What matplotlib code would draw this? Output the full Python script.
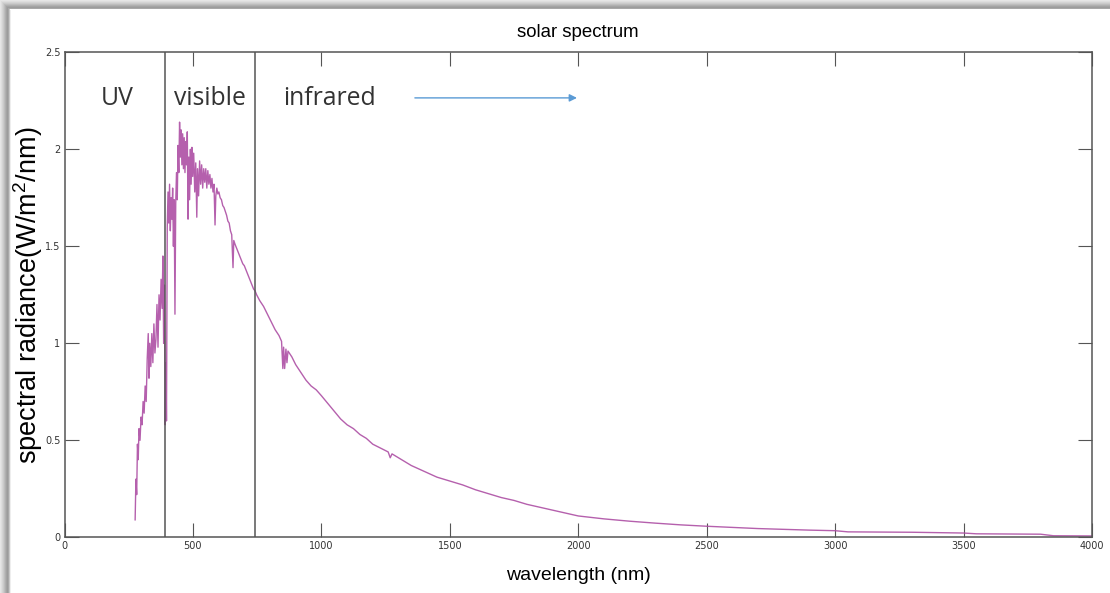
import matplotlib
matplotlib.use('Agg')
import matplotlib.pyplot as plt
from matplotlib.patches import Rectangle, FancyArrowPatch
import numpy as np

plt.rcParams['mathtext.fontset'] = 'custom'
plt.rcParams['mathtext.rm'] = 'Liberation Sans'
plt.rcParams['mathtext.it'] = 'Liberation Sans'

# spectrum (wavelength in nm, radiance in W/m^2/nm)
wl_uv_vis = [275, 278, 281, 284, 287, 290, 294, 298, 302, 306, 310, 314, 318, 322, 326, 329,
             332, 336, 340, 344, 348, 352, 356, 360, 364, 368, 372, 376, 380, 383, 386, 389,
             392, 395, 397, 400, 403, 406, 409, 412, 415, 418, 421, 424, 427, 430, 433, 436,
             439, 442, 445, 448, 451, 454, 457, 460, 463, 466, 469, 472, 475, 478, 481, 484,
             487, 490, 493, 496, 499, 503, 507, 511, 515, 518, 522, 526, 530, 534, 538, 542,
             546, 550, 554, 558, 562, 566, 570, 574, 578, 582, 586, 589, 593, 597, 601, 606,
             611, 616, 621, 626, 631, 636, 641, 646, 651, 656, 659, 664, 670, 676, 682, 688,
             694, 700, 706, 712, 718, 724, 730, 736, 742, 748]
rad_uv_vis = [0.09, 0.30, 0.22, 0.48, 0.40, 0.56, 0.50, 0.62, 0.58, 0.70, 0.64, 0.78, 0.70, 0.92, 1.05, 0.82,
              1.00, 0.88, 1.05, 0.90, 1.10, 0.95, 1.02, 1.20, 0.98, 1.25, 1.12, 1.33, 1.18, 1.45, 1.00, 1.30,
              0.58, 0.90, 0.60, 1.60, 1.78, 1.62, 1.82, 1.58, 1.75, 1.64, 1.80, 1.50, 1.74, 1.15, 1.72, 1.88,
              1.74, 2.02, 1.88, 2.14, 1.96, 2.10, 1.92, 2.08, 1.90, 2.06, 1.88, 2.04, 1.92, 2.09, 1.64, 1.96,
              1.74, 2.00, 1.82, 2.01, 1.86, 1.98, 1.78, 1.93, 1.65, 1.90, 1.76, 1.94, 1.82, 1.92, 1.80, 1.90,
              1.83, 1.90, 1.80, 1.89, 1.82, 1.87, 1.80, 1.85, 1.78, 1.82, 1.61, 1.76, 1.80, 1.77, 1.78, 1.75,
              1.74, 1.71, 1.70, 1.68, 1.66, 1.63, 1.62, 1.58, 1.56, 1.39, 1.53, 1.51, 1.49, 1.47, 1.45, 1.43,
              1.41, 1.40, 1.38, 1.36, 1.34, 1.32, 1.30, 1.28, 1.27, 1.25]

wl_ir = [760, 775, 790, 805, 820, 835, 845, 850, 853, 857, 862, 866, 870, 885, 900, 920,
         940, 960, 980, 1000, 1025, 1050, 1075, 1100, 1125, 1150, 1175, 1200, 1230, 1260, 1268, 1275,
         1300, 1350, 1400, 1450, 1500, 1550, 1600, 1650, 1700, 1750, 1800, 1850, 1900, 1950, 2000, 2100,
         2200, 2300, 2400, 2500, 2600, 2700, 2800, 2900, 3000, 3050, 3300, 3500, 3550, 3800, 3850, 4000]
rad_ir = [1.22, 1.19, 1.15, 1.11, 1.07, 1.04, 1.01, 0.87, 0.98, 0.87, 0.97, 0.90, 0.96, 0.93, 0.89, 0.85,
          0.81, 0.78, 0.76, 0.73, 0.69, 0.65, 0.61, 0.58, 0.56, 0.53, 0.51, 0.48, 0.46, 0.44, 0.41, 0.43,
          0.41, 0.37, 0.34, 0.31, 0.29, 0.27, 0.245, 0.225, 0.205, 0.19, 0.17, 0.155, 0.14, 0.125, 0.11, 0.095,
          0.083, 0.073, 0.064, 0.057, 0.051, 0.045, 0.041, 0.037, 0.034, 0.028, 0.026, 0.022, 0.018, 0.016, 0.008, 0.007]

band_edges = [390, 740]
band_names = ['UV', 'visible', 'infrared']
band_label_x = [204, 567, 1030]
xticks = [0, 500, 1000, 1500, 2000, 2500, 3000, 3500, 4000]
yticks = [0, 0.5, 1, 1.5, 2, 2.5]
ytick_labels = ['0', '0.5', '1', '1.5', '2', '2.5']

wl = np.array(wl_uv_vis + wl_ir)
rad = np.array(rad_uv_vis + rad_ir)

fig = plt.figure(figsize=(11.1, 5.93), dpi=100)

# grey shadow of the pasted screenshot (left and top edges)
W, H = 1110.0, 593.0
greys = ['#e6e6e6', '#dedede', '#d4d4d4', '#cacaca', '#bdbdbd', '#b0b0b0', '#a4a4a4', '#9c9c9c', '#a8a8a8', '#c8c8c8', '#eeeeee']
for i, g in enumerate(greys):
    fig.patches.append(Rectangle((i / W, 0), 1 / W, 1 - i / H, transform=fig.transFigure, color=g, lw=0))
    if i < 9:
        fig.patches.append(Rectangle((i / W, 1 - (i + 1) / H), 1 - i / W, 1 / H,
                                     transform=fig.transFigure, color=g, lw=0))

ax = fig.add_axes([64.5 / W, 55.7 / H, (1092 - 64.5) / W, (537.3 - 52.3) / H])
ax.plot(wl, rad, color='#ad4fa4', lw=1.0, alpha=0.9)

for e in band_edges:
    ax.axvline(e, color='#555555', lw=1.1)

ax.set_xlim(0, 4000)
ax.set_ylim(0, 2.5)
ax.set_xticks(xticks)
ax.set_yticks(yticks)
ax.set_yticklabels(ytick_labels)
ax.tick_params(direction='in', length=10, width=0.8, color='#555555', labelsize=7,
               labelcolor='#333333', top=True, right=True, pad=3)
for s in ax.spines.values():
    s.set_color('#555555')
    s.set_linewidth(1.1)

ax.set_title('solar spectrum', fontsize=13.4, family='Liberation Sans', pad=11)
ax.set_xlabel('wavelength (nm)', fontsize=14, family='Liberation Sans', labelpad=11)
ax.set_ylabel('spectral radiance(W/m$^2$/nm)', fontsize=19.5, family='Liberation Sans')
ax.yaxis.set_label_coords(-0.019, 0.5)

for name, x in zip(band_names, band_label_x):
    ax.text(x, 2.26, name, fontsize=17.8, family='Open Sans', color='#333333', ha='center', va='center')

arrow = FancyArrowPatch((1364, 2.265), (1995, 2.265), arrowstyle='-|>', mutation_scale=11,
                        color='#5b9bd5', lw=1.0, shrinkA=0, shrinkB=0)
ax.add_patch(arrow)

fig.savefig('out.png', dpi=100)
